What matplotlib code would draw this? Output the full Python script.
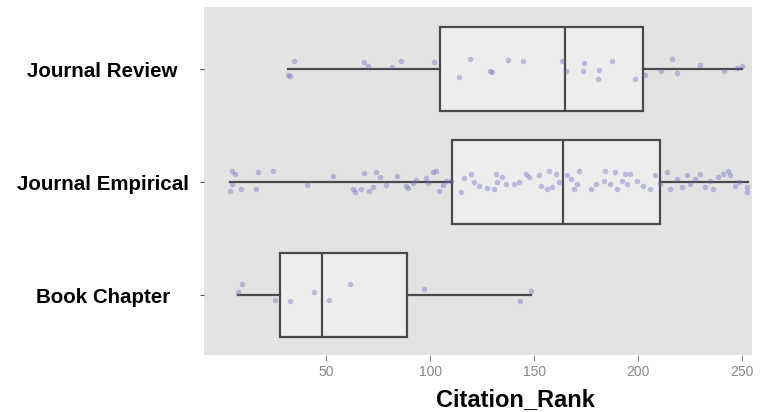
import matplotlib.pyplot as plt

# categories, bottom to top
categories = ['Book Chapter', 'Journal Empirical', 'Journal Review']

# box stats: whisker low, q1, median, q3, whisker high
whislo = [7.2, 3.5, 31.5]
q1 = [27.5, 110.7, 104.7]
med = [48.0, 163.9, 164.8]
q3 = [88.8, 210.5, 202.4]
whishi = [148.7, 252.9, 250.0]

# jittered points (Citation_Rank and vertical jitter)
book_rank = [9.4, 7.2, 25.0, 32.3, 43.8, 51.0, 61.1, 96.8, 148.7, 143.2]
book_jitter = [0.095, 0.03, -0.044, -0.053, 0.024, -0.044, 0.10, 0.05, 0.035, -0.053]

empirical_rank = [4.3, 5.9, 4.7, 3.5, 8.6, 17.0, 16.2, 24.2, 40.6, 53.0,
                  62.6, 63.5, 68.3, 66.7, 70.7, 72.2, 73.9, 76.0, 78.7, 84.0,
                  88.4, 89.1, 91.5, 93.1, 98.0, 98.7, 101.1, 102.7, 104.3, 105.9,
                  107.6, 109.9, 114.8, 116.4, 119.5, 121.1, 123.5, 127.5, 131.5, 132.3,
                  130.7, 134.7, 136.4, 140.3, 142.7, 146.0, 147.5, 152.4, 153.2, 156.3,
                  158.7, 157.1, 160.4, 162.0, 165.9, 167.6, 169.2, 171.6, 170.8, 177.2,
                  179.6, 183.6, 184.3, 186.8, 189.2, 190.0, 192.4, 194.0, 194.7, 196.4,
                  199.6, 202.7, 206.0, 208.4, 210.8, 213.9, 215.6, 218.8, 221.1, 223.6,
                  225.2, 227.6, 230.0, 232.4, 234.8, 236.4, 238.8, 241.2, 243.6, 244.4,
                  246.9, 248.5, 252.4, 252.7]
empirical_jitter = [0.10, 0.073, -0.016, -0.075, -0.066, 0.093, -0.066, 0.10, -0.025, 0.051,
                    -0.06, -0.09, 0.081, -0.06, -0.075, -0.046, 0.087, 0.042, -0.025, 0.051,
                    -0.031, -0.055, -0.007, 0.022, 0.034, -0.007, 0.093, 0.10, -0.075, -0.025,
                    0.013, 0.013, -0.09, 0.034, 0.073, -0.002, -0.031, -0.055, 0.073, -0.002,
                    -0.06, 0.042, -0.016, -0.016, 0.004, 0.073, 0.042, 0.058, -0.031, -0.06,
                    -0.046, 0.10, 0.073, -0.002, 0.058, 0.028, -0.06, 0.10, -0.016, -0.06,
                    -0.016, 0.013, 0.10, -0.016, 0.087, -0.06, 0.013, 0.073, -0.016, 0.073,
                    0.013, -0.031, -0.06, 0.058, -0.016, 0.087, -0.06, 0.028, -0.046, 0.058,
                    -0.016, 0.028, 0.073, -0.046, 0.013, -0.06, 0.042, 0.073, 0.10, 0.058,
                    -0.031, -0.002, -0.09, -0.046]

review_rank = [34.3, 31.5, 32.3, 68.2, 70.0, 81.6, 85.9, 101.9, 119.0, 113.9,
               128.8, 129.8, 137.6, 144.7, 163.6, 165.4, 174.1, 173.5, 181.5, 180.7,
               187.7, 198.5, 203.6, 211.2, 216.4, 218.8, 230.0, 241.5, 247.6, 250.0]
review_jitter = [0.073, -0.055, -0.065, 0.06, 0.03, 0.02, 0.073, 0.06, 0.086, -0.073,
                 -0.02, -0.03, 0.08, 0.07, 0.07, -0.02, 0.053, -0.02, -0.01, -0.086,
                 0.07, -0.086, -0.053, -0.02, 0.086, -0.035, 0.035, -0.02, 0.01, 0.03]

xticks = [50, 100, 150, 200, 250]

plt.rcParams['font.family'] = ['Liberation Sans', 'DejaVu Sans']

fig = plt.figure(figsize=(7.63, 4.12), dpi=100)
ax = fig.add_axes([0.2674, 0.1383, 0.7182, 0.8447])
ax.set_facecolor('#e3e3e3')

stats = []
for i, name in enumerate(categories):
    stats.append({'label': name, 'whislo': whislo[i], 'q1': q1[i], 'med': med[i],
                  'q3': q3[i], 'whishi': whishi[i], 'fliers': []})

edge = '#4a4a4a'
ax.bxp(stats, positions=[1, 2, 3], widths=0.75, vert=False, patch_artist=True,
       showcaps=False, showfliers=False,
       boxprops=dict(facecolor='#ededed', edgecolor=edge, linewidth=1.6),
       medianprops=dict(color=edge, linewidth=1.6),
       whiskerprops=dict(color=edge, linewidth=1.6))

groups = [(book_rank, book_jitter), (empirical_rank, empirical_jitter),
          (review_rank, review_jitter)]
for i, (rank, jit) in enumerate(groups):
    ax.scatter(rank, [i + 1 + j for j in jit], s=16, color='#6666c0', alpha=0.38,
               linewidths=0, zorder=5)

ax.set_xlim(-9, 255)
ax.set_ylim(0.469, 3.549)
ax.set_xticks(xticks)
ax.set_yticks([1, 2, 3])
ax.set_yticklabels(categories, fontsize=14.8, fontweight='bold', ha='center')
ax.tick_params(axis='y', length=3, color='#555555', pad=70)
ax.tick_params(axis='x', length=4, color='#888888', labelcolor='#888888', labelsize=10)
for s in ax.spines.values():
    s.set_visible(False)

ax.set_xlabel('Citation_Rank', fontsize=17, fontweight='bold')
ax.xaxis.set_label_coords(0.568, -0.095)

fig.savefig('out.png', dpi=100)
